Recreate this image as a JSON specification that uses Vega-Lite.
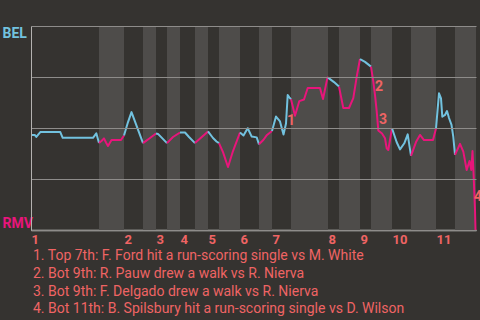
{
  "$schema": "https://vega.github.io/schema/vega-lite/v6.json",
  "autosize": "none",
  "width": 445,
  "height": 204,
  "padding": {"left": 31, "top": 26, "right": 4, "bottom": 90},
  "background": "#353330",
  "config": {
    "view": {"stroke": null},
    "font": "Roboto"
  },
  "datasets": {
    "bands": [
      {"start": 68, "end": 93}, {"start": 112, "end": 125}, {"start": 136, "end": 149},
      {"start": 164, "end": 177}, {"start": 188, "end": 209}, {"start": 228, "end": 241},
      {"start": 260, "end": 297}, {"start": 308, "end": 329}, {"start": 340, "end": 361},
      {"start": 380, "end": 405}, {"start": 424, "end": 445}
    ],
    "wp": [
      {"t": 0, "wp": 0.466, "half": "1T", "bat": "top"},
      {"t": 3.7, "wp": 0.466, "half": "1T", "bat": "top"},
      {"t": 5.3, "wp": 0.456, "half": "1T", "bat": "top"},
      {"t": 9.3, "wp": 0.48, "half": "1T", "bat": "top"},
      {"t": 29.3, "wp": 0.48, "half": "1T", "bat": "top"},
      {"t": 31.7, "wp": 0.452, "half": "1T", "bat": "top"},
      {"t": 62, "wp": 0.452, "half": "1T", "bat": "top"},
      {"t": 65.3, "wp": 0.474, "half": "1T", "bat": "top"},
      {"t": 68, "wp": 0.426, "half": "1T", "bat": "top"},
      {"t": 68, "wp": 0.426, "half": "1B", "bat": "bot"},
      {"t": 70.5, "wp": 0.436, "half": "1B", "bat": "bot"},
      {"t": 73, "wp": 0.449, "half": "1B", "bat": "bot"},
      {"t": 75, "wp": 0.429, "half": "1B", "bat": "bot"},
      {"t": 77, "wp": 0.412, "half": "1B", "bat": "bot"},
      {"t": 80.5, "wp": 0.441, "half": "1B", "bat": "bot"},
      {"t": 90, "wp": 0.441, "half": "1B", "bat": "bot"},
      {"t": 93, "wp": 0.463, "half": "1B", "bat": "bot"},
      {"t": 93, "wp": 0.463, "half": "2T", "bat": "top"},
      {"t": 97, "wp": 0.529, "half": "2T", "bat": "top"},
      {"t": 100.5, "wp": 0.578, "half": "2T", "bat": "top"},
      {"t": 112, "wp": 0.426, "half": "2T", "bat": "top"},
      {"t": 112, "wp": 0.426, "half": "2B", "bat": "bot"},
      {"t": 119, "wp": 0.451, "half": "2B", "bat": "bot"},
      {"t": 125, "wp": 0.473, "half": "2B", "bat": "bot"},
      {"t": 125, "wp": 0.473, "half": "3T", "bat": "top"},
      {"t": 127, "wp": 0.471, "half": "3T", "bat": "top"},
      {"t": 136, "wp": 0.426, "half": "3T", "bat": "top"},
      {"t": 136, "wp": 0.426, "half": "3B", "bat": "bot"},
      {"t": 142, "wp": 0.456, "half": "3B", "bat": "bot"},
      {"t": 149, "wp": 0.478, "half": "3B", "bat": "bot"},
      {"t": 149, "wp": 0.478, "half": "4T", "bat": "top"},
      {"t": 154, "wp": 0.478, "half": "4T", "bat": "top"},
      {"t": 158, "wp": 0.456, "half": "4T", "bat": "top"},
      {"t": 164, "wp": 0.426, "half": "4T", "bat": "top"},
      {"t": 164, "wp": 0.426, "half": "4B", "bat": "bot"},
      {"t": 177, "wp": 0.483, "half": "4B", "bat": "bot"},
      {"t": 177, "wp": 0.483, "half": "5T", "bat": "top"},
      {"t": 182, "wp": 0.451, "half": "5T", "bat": "top"},
      {"t": 185.5, "wp": 0.434, "half": "5T", "bat": "top"},
      {"t": 188, "wp": 0.426, "half": "5T", "bat": "top"},
      {"t": 188, "wp": 0.426, "half": "5B", "bat": "bot"},
      {"t": 192, "wp": 0.382, "half": "5B", "bat": "bot"},
      {"t": 197, "wp": 0.309, "half": "5B", "bat": "bot"},
      {"t": 202, "wp": 0.387, "half": "5B", "bat": "bot"},
      {"t": 209, "wp": 0.478, "half": "5B", "bat": "bot"},
      {"t": 209, "wp": 0.478, "half": "6T", "bat": "top"},
      {"t": 212.5, "wp": 0.463, "half": "6T", "bat": "top"},
      {"t": 216.7, "wp": 0.499, "half": "6T", "bat": "top"},
      {"t": 220.7, "wp": 0.458, "half": "6T", "bat": "top"},
      {"t": 225.7, "wp": 0.454, "half": "6T", "bat": "top"},
      {"t": 228, "wp": 0.42, "half": "6T", "bat": "top"},
      {"t": 228, "wp": 0.42, "half": "6B", "bat": "bot"},
      {"t": 232.3, "wp": 0.441, "half": "6B", "bat": "bot"},
      {"t": 236, "wp": 0.466, "half": "6B", "bat": "bot"},
      {"t": 241, "wp": 0.485, "half": "6B", "bat": "bot"},
      {"t": 241, "wp": 0.485, "half": "7T", "bat": "top"},
      {"t": 245, "wp": 0.556, "half": "7T", "bat": "top"},
      {"t": 249, "wp": 0.532, "half": "7T", "bat": "top"},
      {"t": 252.5, "wp": 0.468, "half": "7T", "bat": "top"},
      {"t": 255, "wp": 0.522, "half": "7T", "bat": "top"},
      {"t": 256.7, "wp": 0.662, "half": "7T", "bat": "top"},
      {"t": 258.3, "wp": 0.65, "half": "7T", "bat": "top"},
      {"t": 260, "wp": 0.641, "half": "7T", "bat": "top"},
      {"t": 260, "wp": 0.641, "half": "7B", "bat": "bot"},
      {"t": 264, "wp": 0.56, "half": "7B", "bat": "bot"},
      {"t": 268.3, "wp": 0.632, "half": "7B", "bat": "bot"},
      {"t": 273, "wp": 0.64, "half": "7B", "bat": "bot"},
      {"t": 276.7, "wp": 0.696, "half": "7B", "bat": "bot"},
      {"t": 289, "wp": 0.696, "half": "7B", "bat": "bot"},
      {"t": 292, "wp": 0.642, "half": "7B", "bat": "bot"},
      {"t": 296.5, "wp": 0.748, "half": "7B", "bat": "bot"},
      {"t": 297, "wp": 0.747, "half": "7B", "bat": "bot"},
      {"t": 297, "wp": 0.747, "half": "8T", "bat": "top"},
      {"t": 303, "wp": 0.725, "half": "8T", "bat": "top"},
      {"t": 308, "wp": 0.703, "half": "8T", "bat": "top"},
      {"t": 308, "wp": 0.703, "half": "8B", "bat": "bot"},
      {"t": 312.3, "wp": 0.598, "half": "8B", "bat": "bot"},
      {"t": 318, "wp": 0.598, "half": "8B", "bat": "bot"},
      {"t": 322.3, "wp": 0.646, "half": "8B", "bat": "bot"},
      {"t": 325.7, "wp": 0.751, "half": "8B", "bat": "bot"},
      {"t": 329, "wp": 0.838, "half": "8B", "bat": "bot"},
      {"t": 329, "wp": 0.838, "half": "9T", "bat": "top"},
      {"t": 334, "wp": 0.824, "half": "9T", "bat": "top"},
      {"t": 340, "wp": 0.801, "half": "9T", "bat": "top"},
      {"t": 340, "wp": 0.801, "half": "9B", "bat": "bot"},
      {"t": 342.3, "wp": 0.727, "half": "9B", "bat": "bot"},
      {"t": 344, "wp": 0.662, "half": "9B", "bat": "bot"},
      {"t": 345.7, "wp": 0.583, "half": "9B", "bat": "bot"},
      {"t": 347.3, "wp": 0.488, "half": "9B", "bat": "bot"},
      {"t": 351, "wp": 0.473, "half": "9B", "bat": "bot"},
      {"t": 354, "wp": 0.45, "half": "9B", "bat": "bot"},
      {"t": 355.7, "wp": 0.4, "half": "9B", "bat": "bot"},
      {"t": 357.3, "wp": 0.392, "half": "9B", "bat": "bot"},
      {"t": 359, "wp": 0.441, "half": "9B", "bat": "bot"},
      {"t": 361, "wp": 0.499, "half": "9B", "bat": "bot"},
      {"t": 361, "wp": 0.499, "half": "10T", "bat": "top"},
      {"t": 365.7, "wp": 0.43, "half": "10T", "bat": "top"},
      {"t": 369, "wp": 0.395, "half": "10T", "bat": "top"},
      {"t": 373.3, "wp": 0.425, "half": "10T", "bat": "top"},
      {"t": 376.7, "wp": 0.469, "half": "10T", "bat": "top"},
      {"t": 380, "wp": 0.363, "half": "10T", "bat": "top"},
      {"t": 380, "wp": 0.363, "half": "10B", "bat": "bot"},
      {"t": 385, "wp": 0.431, "half": "10B", "bat": "bot"},
      {"t": 389, "wp": 0.466, "half": "10B", "bat": "bot"},
      {"t": 393, "wp": 0.441, "half": "10B", "bat": "bot"},
      {"t": 402, "wp": 0.441, "half": "10B", "bat": "bot"},
      {"t": 405, "wp": 0.498, "half": "10B", "bat": "bot"},
      {"t": 405, "wp": 0.498, "half": "11T", "bat": "top"},
      {"t": 408, "wp": 0.67, "half": "11T", "bat": "top"},
      {"t": 410, "wp": 0.645, "half": "11T", "bat": "top"},
      {"t": 411.3, "wp": 0.555, "half": "11T", "bat": "top"},
      {"t": 414, "wp": 0.564, "half": "11T", "bat": "top"},
      {"t": 416, "wp": 0.583, "half": "11T", "bat": "top"},
      {"t": 418, "wp": 0.549, "half": "11T", "bat": "top"},
      {"t": 420.5, "wp": 0.515, "half": "11T", "bat": "top"},
      {"t": 422.3, "wp": 0.456, "half": "11T", "bat": "top"},
      {"t": 424, "wp": 0.368, "half": "11T", "bat": "top"},
      {"t": 424, "wp": 0.368, "half": "11B", "bat": "bot"},
      {"t": 429, "wp": 0.422, "half": "11B", "bat": "bot"},
      {"t": 432.3, "wp": 0.384, "half": "11B", "bat": "bot"},
      {"t": 435.7, "wp": 0.294, "half": "11B", "bat": "bot"},
      {"t": 438.5, "wp": 0.338, "half": "11B", "bat": "bot"},
      {"t": 440.3, "wp": 0.294, "half": "11B", "bat": "bot"},
      {"t": 441.5, "wp": 0.387, "half": "11B", "bat": "bot"},
      {"t": 442.5, "wp": 0.284, "half": "11B", "bat": "bot"},
      {"t": 444, "wp": 0.098, "half": "11B", "bat": "bot"},
      {"t": 444.5, "wp": 0, "half": "11B", "bat": "bot"}
    ],
    "events": [
      {"n": "1", "t": 260, "wp": 0.534},
      {"n": "2", "t": 348, "wp": 0.701},
      {"n": "3", "t": 352, "wp": 0.539},
      {"n": "4", "t": 447, "wp": 0.162}
    ]
  },
  "layer": [
    {
      "data": {"name": "bands"},
      "mark": {"type": "rect", "color": "#4e4c4a"},
      "encoding": {
        "x": {"field": "start", "type": "quantitative", "scale": {"domain": [0, 445], "nice": false, "zero": false},
          "axis": {
            "values": [0, 93, 125, 149, 177, 209, 241, 297, 329, 361, 405],
            "labelExpr": "'' + (indexof([0, 93, 125, 149, 177, 209, 241, 297, 329, 361, 405], datum.value) + 1)",
            "labelAlign": "left",
            "labelBaseline": "top",
            "labelDx": 1,
            "labelPadding": 3,
            "labelFlush": false,
            "labelOverlap": false,
            "labelColor": "#ef6464",
            "labelFontWeight": "bold",
            "labelFontSize": 13,
            "labelFont": "Roboto",
            "ticks": false,
            "tickSize": 0,
            "grid": false,
            "domainColor": "#d4d2d0",
            "domainWidth": 1.5,
            "title": [
              "1. Top 7th: F. Ford hit a run-scoring single vs M. White",
              "2. Bot 9th: R. Pauw drew a walk vs R. Nierva",
              "3. Bot 9th: F. Delgado drew a walk vs R. Nierva",
              "4. Bot 11th: B. Spilsbury hit a run-scoring single vs D. Wilson"
            ],
            "titleAnchor": "start",
            "titleAlign": "left",
            "titleBaseline": "alphabetic",
            "titleX": 1.5,
            "titleY": 29.5,
            "titleLineHeight": 17.8,
            "titleColor": "#ef6464",
            "titleFont": "Roboto",
            "titleFontSize": 14,
            "titleFontWeight": "normal"
          }
        },
        "x2": {"field": "end"},
        "y": {"datum": 0, "type": "quantitative", "scale": {"domain": [0, 1], "nice": false},
          "axis": {
            "values": [0, 0.25, 0.5, 0.75, 1],
            "labelExpr": "datum.value == 1 ? 'BEL' : datum.value == 0 ? 'RMV' : ''",
            "labelColor": {"condition": {"test": "datum.value == 1", "value": "#72c2df"}, "value": "#e8157b"},
            "labelFontWeight": "bold",
            "labelFontSize": 14,
            "labelFont": "Roboto",
            "labelAlign": "left",
            "labelFlush": true,
            "labelPadding": 29,
            "ticks": false,
            "tickSize": 0,
            "grid": true,
            "gridColor": "#8e8c8a",
            "gridWidth": 1,
            "domainColor": "#b4b2b0",
            "domainWidth": 1,
            "title": null,
            "zindex": 1
          }
        },
        "y2": {"datum": 1}
      }
    },
    {
      "data": {"name": "wp"},
      "mark": {"type": "line", "strokeWidth": 2, "strokeJoin": "round"},
      "encoding": {
        "x": {"field": "t", "type": "quantitative"},
        "y": {"field": "wp", "type": "quantitative"},
        "detail": {"field": "half"},
        "color": {"field": "bat", "type": "nominal",
          "scale": {"domain": ["top", "bot"], "range": ["#72c2df", "#e8157b"]},
          "legend": null}
      }
    },
    {
      "data": {"name": "events"},
      "mark": {"type": "text", "color": "#ef6464", "font": "Roboto", "fontWeight": "bold", "fontSize": 14, "align": "center", "baseline": "middle", "clip": false},
      "encoding": {
        "x": {"field": "t", "type": "quantitative"},
        "y": {"field": "wp", "type": "quantitative"},
        "text": {"field": "n"}
      }
    }
  ]
}
